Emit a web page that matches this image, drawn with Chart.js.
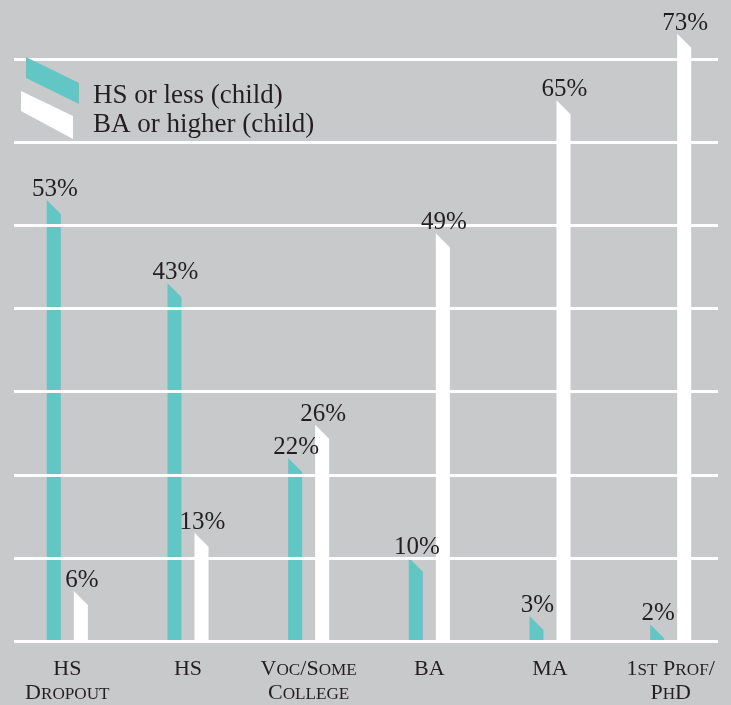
<!DOCTYPE html>
<html>
<head>
<meta charset="utf-8">
<script src="https://cdn.jsdelivr.net/npm/chart.js@4.4.1/dist/chart.umd.min.js"></script>
<style>
  html, body { margin: 0; padding: 0; background: #c8c9cb; }
  #wrap { position: relative; width: 731px; height: 705px; }
</style>
</head>
<body>
<div id="wrap"><canvas id="chart"></canvas></div>
<script>
// data
const categories = [['HS', 'Dropout'], ['HS'], ['Voc/Some', 'College'], ['BA'], ['MA'], ['1st Prof/', 'PhD']];
const hsOrLess = [53, 43, 22, 10, 3, 2];
const baOrHigher = [6, 13, 26, 49, 65, 73];
const gridValues = [0, 10, 20, 30, 40, 50, 60, 70];

const TEAL = '#62c6c5';
const WHITE = '#ffffff';
const INK = '#231f20';
const FONT = '"Liberation Serif", "DejaVu Serif", serif';

// small caps by hand: lowercase letters become smaller capitals
function drawSmallCaps(ctx, text, cx, baseline, size) {
  const parts = [];
  let total = 0;
  for (const ch of text) {
    const small = ch !== ch.toUpperCase();
    const s = small ? size * 0.78 : size;
    ctx.font = s + 'px ' + FONT;
    const c = ch.toUpperCase();
    const w = ctx.measureText(c).width;
    parts.push({ c, s, w });
    total += w;
  }
  let x = cx - total / 2;
  ctx.textAlign = 'left';
  for (const p of parts) {
    ctx.font = p.s + 'px ' + FONT;
    ctx.fillText(p.c, x, baseline);
    x += p.w;
  }
}

const slantBars = {
  id: 'slantBars',
  beforeDatasetsDraw() {
    return false; // bars are drawn by hand in afterDraw
  },
  afterDraw(chart) {
    const ctx = chart.ctx;
    const yScale = chart.scales.y;
    const xScale = chart.scales.x;
    ctx.save();

    // bars with slanted tops
    chart.data.datasets.forEach((ds, di) => {
      const meta = chart.getDatasetMeta(di);
      meta.data.forEach(el => {
        const { x, y, base, width } = el.getProps(['x', 'y', 'base', 'width'], true);
        const l = x - width / 2, r = x + width / 2;
        const drop = Math.min(14, base - y);
        ctx.fillStyle = ds.backgroundColor;
        ctx.beginPath();
        ctx.moveTo(l, y);
        ctx.lineTo(r, y + drop);
        ctx.lineTo(r, base);
        ctx.lineTo(l, base);
        ctx.closePath();
        ctx.fill();
      });
    });

    // white gridlines on top of the bars
    ctx.strokeStyle = WHITE;
    ctx.lineWidth = 3;
    gridValues.forEach(v => {
      const py = Math.round(yScale.getPixelForValue(v)) + 0.5;
      ctx.beginPath();
      ctx.moveTo(14, py);
      ctx.lineTo(718, py);
      ctx.stroke();
    });

    // value labels
    ctx.fillStyle = INK;
    ctx.font = '25px ' + FONT;
    ctx.textAlign = 'center';
    ctx.textBaseline = 'alphabetic';
    chart.data.datasets.forEach((ds, di) => {
      const meta = chart.getDatasetMeta(di);
      meta.data.forEach((el, i) => {
        const { x, y } = el.getProps(['x', 'y'], true);
        ctx.fillText(ds.data[i] + '%', x + 1, y - 4);
      });
    });

    // category labels in small caps
    chart.data.labels.forEach((lines, i) => {
      const cx = xScale.getPixelForValue(i);
      lines.forEach((t, j) => drawSmallCaps(ctx, t, cx, 675 + j * 24, 22));
    });

    // legend with slanted swatches
    const sw = [
      [[26, 57], [79, 83], [79, 104], [26, 78]],
      [[21, 91], [73, 116], [73, 139], [21, 111]]
    ];
    chart.data.datasets.forEach((ds, di) => {
      ctx.fillStyle = ds.backgroundColor;
      ctx.beginPath();
      sw[di].forEach((p, k) => k ? ctx.lineTo(p[0], p[1]) : ctx.moveTo(p[0], p[1]));
      ctx.closePath();
      ctx.fill();
      ctx.fillStyle = INK;
      ctx.font = '27px ' + FONT;
      ctx.textAlign = 'left';
      ctx.fillText(ds.label, 93, 103 + di * 29);
    });

    ctx.restore();
  }
};

new Chart(document.getElementById('chart'), {
  type: 'bar',
  data: {
    labels: categories,
    datasets: [
      { label: 'HS or less (child)', data: hsOrLess, backgroundColor: TEAL },
      { label: 'BA or higher (child)', data: baOrHigher, backgroundColor: WHITE }
    ]
  },
  options: {
    responsive: true,
    maintainAspectRatio: false,
    animation: false,
    layout: { padding: { top: 17, bottom: 64, left: 7, right: 0 } },
    categoryPercentage: 0.448,
    barPercentage: 0.519,
    scales: {
      x: { display: false },
      y: { display: false, min: 0, max: 75 }
    },
    plugins: {
      legend: { display: false },
      tooltip: { enabled: false }
    }
  },
  plugins: [slantBars]
});
</script>
</body>
</html>
